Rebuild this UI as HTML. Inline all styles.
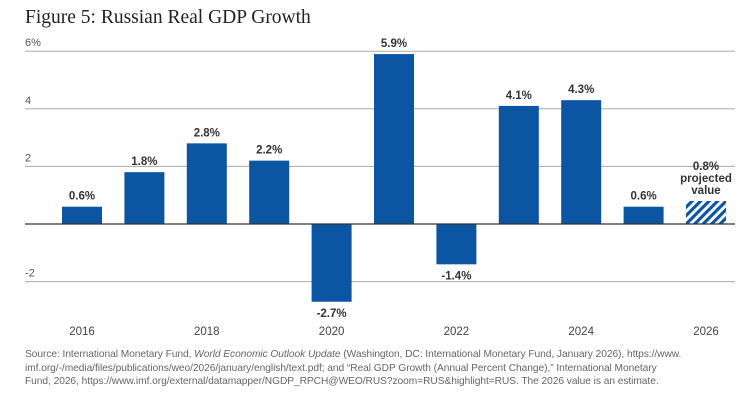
<!DOCTYPE html>
<html><head><meta charset="utf-8"><style>
body{margin:0;background:#fff;width:752px;height:409px;overflow:hidden;font-family:"Liberation Sans",sans-serif}
#title{position:absolute;left:25px;top:7px;font-family:"Liberation Serif",serif;font-size:19.5px;color:#222}
#src{position:absolute;left:25px;top:348px;width:730px;font-size:10.2px;line-height:13.5px;color:#666;letter-spacing:-0.05px}
</style></head><body>
<div id="title">Figure 5: Russian Real GDP Growth</div>
<svg id="chart" width="752" height="345" style="position:absolute;left:0;top:0">
<defs><pattern id="hatch" patternUnits="userSpaceOnUse" width="6" height="6" patternTransform="rotate(45)"><rect width="6" height="6" fill="#fff"/><rect width="3.2" height="6" fill="#0b55a3"/></pattern></defs>
</svg>
<div id="src">Source: International Monetary Fund, <i>World Economic Outlook Update</i> (Washington, DC: International Monetary Fund, January 2026), https://www.<br>imf.org/-/media/files/publications/weo/2026/january/english/text.pdf; and “Real GDP Growth (Annual Percent Change),” International Monetary<br>Fund, 2026, https://www.imf.org/external/datamapper/NGDP_RPCH@WEO/RUS?zoom=RUS&amp;highlight=RUS. The 2026 value is an estimate.</div>
<script>
const years=[2016,2017,2018,2019,2020,2021,2022,2023,2024,2025,2026];
const values=[0.6,1.8,2.8,2.2,-2.7,5.9,-1.4,4.1,4.3,0.6,0.8];
const yTicks=[6,4,2,-2];
const yTickLabels=["6%","4","2","-2"];
const xLabelYears=[2016,2018,2020,2022,2024,2026];
const ns="http://www.w3.org/2000/svg";
const svg=document.getElementById('chart');
const y=v=>224-v*28.8;
const x=i=>82+i*62.4;
function mk(t,a,txt){const e=document.createElementNS(ns,t);for(const k in a)e.setAttribute(k,a[k]);if(txt!=null)e.textContent=txt;svg.appendChild(e);return e;}
yTicks.forEach((t,i)=>{
 const l=mk('line',{x1:25,x2:735,y1:y(t),y2:y(t),stroke:'#aaa','stroke-width':1});
 
 
 const tx=mk('text',{x:25,y:y(t)-5,'font-size':11,fill:'#555'},yTickLabels[i]);
 
 
});
values.forEach((v,i)=>{
 const proj=i===values.length-1;
 const r=mk('rect',{x:x(i)-20,width:40,y:Math.min(y(v),y(0)),height:Math.abs(y(v)-y(0)),fill:proj?'url(#hatch)':'#0b55a3'});
 
 
 const lab=(v<0?'-':'')+Math.abs(v).toFixed(1)+'%';
 const ly=v<0?y(v)+15:(proj?y(v)-31:y(v)-7);
 const t=mk('text',{x:x(i),y:ly,'text-anchor':'middle','font-size':11.5,'font-weight':'bold',fill:'#333'},lab);
 
 
 if(proj){
  ['projected','value'].forEach((w,k)=>{const p=mk('text',{x:x(i),y:ly+12+k*12,'text-anchor':'middle','font-size':11.5,'font-weight':'bold',fill:'#333'},w);
  
  });
 }
});
const z=mk('line',{x1:25,x2:735,y1:y(0),y2:y(0),stroke:'#333','stroke-width':1.3});


xLabelYears.forEach(yr=>{
 const i=years.indexOf(yr);
 const t=mk('text',{x:x(i),y:335,'text-anchor':'middle','font-size':11.5,fill:'#444'},yr);
 
 
});
</script>
</body></html>
